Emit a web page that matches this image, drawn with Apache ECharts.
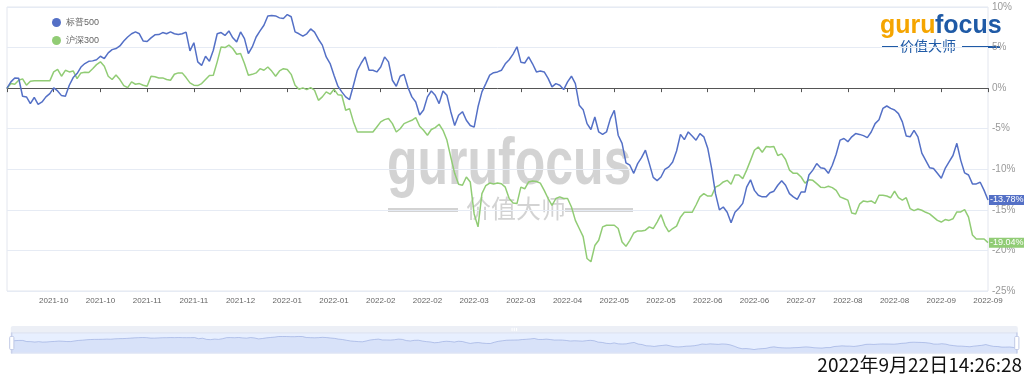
<!DOCTYPE html>
<html><head><meta charset="utf-8">
<script src="https://cdn.jsdelivr.net/npm/echarts@6/dist/echarts.min.js"></script>
<style>html,body{margin:0;padding:0;background:#fff;}#c{width:1024px;height:374px;}</style>
</head><body><div id="c"></div>
<script>
const tickLabels = ['', '2021-10', '2021-10', '2021-11', '2021-11', '2021-12', '2022-01', '2022-01', '2022-02', '2022-02', '2022-03', '2022-03', '2022-04', '2022-05', '2022-05', '2022-06', '2022-06', '2022-07', '2022-08', '2022-08', '2022-09', '2022-09'];
const seriesNames = ['标普500', '沪深300'];
const sp500 = [0,0.77,1.26,1.22,-1.0,-1.08,-1.9,-1.15,-2.0,-1.7,-1.08,-0.67,0.03,-0.34,-0.92,-1.0,0.36,1.3,1.8,2.6,3.03,3.3,3.36,3.5,3.93,3.65,4.35,4.75,4.88,5.2,5.8,6.3,6.7,6.93,6.7,5.8,5.74,6.2,6.57,6.6,6.85,6.7,6.93,6.7,6.6,6.7,6.9,4.6,5.6,3.24,2.8,3.93,3.3,4.67,6.7,6.85,6.5,7.05,6.2,5.7,6.93,6.1,4.26,5.08,6.3,7.05,7.75,8.9,8.95,8.9,8.66,8.58,9.07,8.8,6.93,6.7,6.4,6.7,7.3,6.9,6.03,5.3,3.85,3.03,1.6,0.24,-0.46,-1.08,-1.4,0.36,2.2,3.1,3.85,2.2,2.2,2.0,2.6,3.85,3.24,0.97,0.23,1.47,1.7,0.07,-1.08,-1.7,-3.3,-2.7,-1.08,-0.35,-0.87,-1.9,-0.35,-0.87,-2.9,-4.6,-3.35,-2.9,-3.96,-4.6,-4.8,-2.3,-0.46,0.56,1.6,1.9,2.0,2.2,3.0,3.5,4.2,5.1,3.2,3.1,3.85,3.0,2.0,2.1,2.0,1.2,0.15,0.56,0.36,-0.18,0.77,1.47,0.56,-2.1,-2.65,-4.37,-5.1,-3.55,-5.4,-5.7,-5.4,-3.76,-2.73,-5.8,-6.8,-9.2,-9.5,-10.5,-9.3,-8.57,-7.65,-9.3,-11.0,-11.4,-10.95,-10.0,-9.7,-9.1,-7.75,-5.7,-6.35,-5.4,-5.9,-6.42,-5.6,-6.0,-7.4,-9.9,-13.0,-15.0,-14.65,-15.3,-16.6,-15.3,-14.8,-14.2,-12.2,-11.3,-12.6,-13.2,-13.4,-13.4,-12.9,-12.7,-11.97,-11.4,-11.97,-13.0,-13.4,-13.7,-12.8,-12.8,-10.7,-10.1,-9.3,-9.8,-9.9,-10.5,-9.5,-8.15,-6.4,-6.2,-6.6,-6.0,-5.6,-5.7,-5.85,-6.1,-5.4,-4.37,-3.9,-2.5,-2.2,-2.5,-2.7,-3.14,-4.16,-5.9,-6.0,-5.2,-6.0,-8.0,-8.9,-9.8,-9.9,-10.5,-11.1,-9.9,-9.1,-8.3,-6.8,-8.9,-10.45,-10.7,-11.8,-11.8,-11.6,-12.6,-13.78];
const csi300 = [0,0.56,0.48,0.97,1.14,0.36,0.85,0.9,0.9,0.9,0.9,0.9,2.0,2.3,1.47,2.2,2.0,2.12,1.18,1.88,1.96,1.92,2.4,2.9,3.24,2.7,1.47,1.06,1.63,1.06,0.32,0.07,0.77,0.48,0.56,0.36,0.23,1.47,1.4,1.26,1.26,1.06,0.97,1.71,1.88,1.88,1.3,0.65,0.36,0.32,0.56,1.06,1.55,1.59,3.24,5.08,5.0,5.3,4.88,4.18,4.26,3.03,1.59,1.7,1.88,2.4,2.2,2.6,2.1,1.47,2.12,2.4,2.3,1.7,0.36,-0.14,0.03,-0.18,0.07,-0.26,-1.5,-1.08,-0.46,-0.75,-0.14,-0.8,-0.87,-2.73,-2.52,-4.16,-5.4,-5.4,-5.4,-5.4,-5.4,-4.78,-4.16,-3.88,-3.75,-4.37,-5.4,-5.0,-4.37,-4.16,-3.96,-3.63,-4.7,-5.2,-5.8,-5.1,-4.86,-4.45,-5.2,-6.4,-8.5,-10.5,-11.85,-11.97,-10.95,-11.56,-15.5,-17.1,-13.0,-12.0,-11.7,-11.8,-11.7,-11.78,-12.2,-13.6,-14.15,-14.23,-12.2,-12.4,-11.56,-11.45,-11.5,-11.7,-12.6,-13.6,-14.45,-13.6,-13.4,-13.6,-13.6,-14.65,-16.3,-17.3,-18.3,-21.0,-21.4,-19.4,-18.75,-17.1,-16.9,-16.9,-16.9,-17.3,-18.96,-19.5,-18.75,-17.85,-17.6,-17.6,-17.5,-17.1,-17.3,-16.5,-15.6,-16.9,-17.7,-17.3,-17.0,-15.9,-15.3,-15.3,-15.3,-14.4,-13.4,-13.0,-13.3,-13.3,-12.2,-11.97,-11.56,-11.36,-11.85,-10.7,-10.7,-11.15,-10.1,-8.9,-7.66,-7.25,-7.9,-7.2,-7.25,-7.2,-8.3,-8.1,-8.8,-10.1,-10.5,-10.5,-10.95,-11.7,-11.3,-11.36,-11.77,-12.2,-12.26,-12.1,-12.26,-12.6,-13.4,-13.6,-13.8,-15.4,-15.5,-14.3,-13.9,-14.0,-13.9,-14.2,-13.2,-13.2,-13.3,-13.5,-12.7,-13.5,-13.8,-13.5,-14.85,-15.1,-14.9,-15.05,-15.3,-15.5,-15.9,-16.3,-16.5,-16.2,-16.3,-16.1,-15.26,-15.26,-14.97,-15.9,-18.1,-18.6,-18.6,-18.6,-19.04];
const categories = sp500.map((_, i) => i);
const labelEvery = 12;
const timestamp = '2022年9月22日14:26:28';

const colors = ['#5470c6', '#91cc75'];
const sans = '"Liberation Sans", Arial, sans-serif';
const wm = 'rgba(150,150,150,0.42)';
const chart = echarts.init(document.getElementById('c'), null, {renderer: 'canvas'});
const endLabel = (c) => ({
  show: true, distance: 1, fontSize: 9, fontFamily: sans, color: '#fff',
  backgroundColor: c, padding: [1, 1, 0, 1],
  formatter: p => p.value.toFixed(2) + '%'
});
chart.setOption({
  animation: false,
  color: colors,
  grid: {left: 7, right: 36, top: 7, bottom: 83, show: true, borderColor: '#e3e6ee', borderWidth: 1},
  legend: {
    orient: 'vertical', left: 47, top: 13, itemWidth: 9, itemHeight: 9, itemGap: 9,
    icon: 'circle', textStyle: {fontSize: 9, color: '#666'},
    data: seriesNames
  },
  xAxis: [{
    type: 'category', data: categories, boundaryGap: false,
    axisLine: {show: false, onZero: false}, axisTick: {show: false},
    axisLabel: {interval: labelEvery - 1, fontSize: 8, fontFamily: sans, color: '#666', margin: 6,
      formatter: (v, idx) => idx % labelEvery === 0 ? tickLabels[idx / labelEvery] : ''},
    splitLine: {show: false}
  }, {
    type: 'category', data: categories, boundaryGap: false, position: 'bottom',
    axisLine: {show: true, onZero: true, lineStyle: {color: '#555', width: 1}},
    axisTick: {show: true, interval: labelEvery - 1, length: 4, lineStyle: {color: '#555'}},
    axisLabel: {show: false}, splitLine: {show: false}
  }],
  yAxis: {
    type: 'value', position: 'right', min: -25, max: 10, interval: 5,
    axisLine: {show: false}, axisTick: {show: false},
    axisLabel: {formatter: '{value}%', fontSize: 10, fontFamily: sans, color: '#999', margin: 4},
    splitLine: {lineStyle: {color: '#e6ebf4'}}
  },
  dataZoom: [{
    type: 'slider', xAxisIndex: [0, 1], left: 8, right: 9, bottom: 27, height: 21,
    start: 0, end: 100, showDetail: false,
    moveHandleStyle: {color: '#d9dfee'}
  }],
  graphic: [
    {type: 'text', right: 2, bottom: 0, style: {text: timestamp, fontSize: 19, fill: '#111', fontFamily: '"Noto Sans CJK SC", sans-serif'}},
    {type: 'text', left: 387, top: 132, scaleY: 1.35, z: 0, style: {text: 'gurufocus', fontSize: 50, fontWeight: 'bold', fill: wm, fontFamily: sans}},
    {type: 'rect', left: 388, top: 208, shape: {width: 70, height: 4}, style: {fill: wm}},
    {type: 'rect', left: 565, top: 208, shape: {width: 68, height: 4}, style: {fill: wm}},
    {type: 'text', left: 466, top: 196, style: {text: '价值大师', fontSize: 25, fill: wm, fontFamily: '"Noto Sans CJK SC", sans-serif'}},
    {type: 'text', left: 880, top: 14, style: {text: 'guru', fontSize: 25, fontWeight: 'bold', fill: '#f5a500', fontFamily: sans}},
    {type: 'text', left: 935, top: 14, style: {text: 'focus', fontSize: 25, fontWeight: 'bold', fill: '#1f5aa6', fontFamily: sans}},
    {type: 'rect', left: 882, top: 46, shape: {width: 16, height: 2}, style: {fill: '#1f5aa6'}},
    {type: 'text', left: 900, top: 39, style: {text: '价值大师', fontSize: 14, fill: '#1f5aa6', fontFamily: '"Noto Sans CJK SC", sans-serif'}},
    {type: 'rect', left: 962, top: 46, shape: {width: 38, height: 2}, style: {fill: '#1f5aa6'}}
  ],
  series: [
    {name: seriesNames[0], type: 'line', data: sp500, showSymbol: false, symbol: 'none', lineStyle: {width: 1.5}, endLabel: endLabel(colors[0]), z: 3},
    {name: seriesNames[1], type: 'line', data: csi300, showSymbol: false, symbol: 'none', lineStyle: {width: 1.5}, endLabel: endLabel(colors[1]), z: 2}
  ]
});
</script></body></html>
